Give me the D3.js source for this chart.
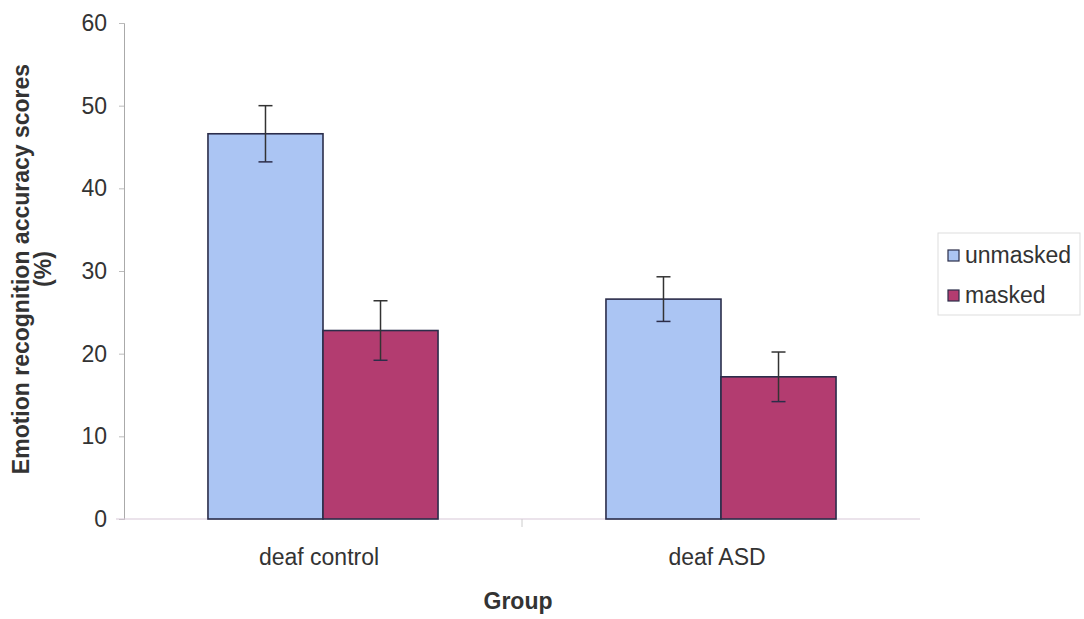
<!DOCTYPE html>
<html><head><meta charset="utf-8">
<script src="https://cdn.jsdelivr.net/npm/d3@7"></script>
<style>body{margin:0;background:#fff}text{font-family:"Liberation Sans",Arial,sans-serif;fill:#333}</style>
</head><body><svg id="c" width="1084" height="619"></svg>
<script>
const groups = ["deaf control", "deaf ASD"];
const seriesNames = ["unmasked", "masked"];
const unmasked = [46.6, 26.6];
const masked = [22.8, 17.2];
const unmaskedErr = [3.4, 2.7];
const maskedErr = [3.6, 3.0];
const yTicks = [0, 10, 20, 30, 40, 50, 60];
const colors = ["#abc5f3", "#b33c70"];

const svg = d3.select("#c");
const x = d3.scaleBand().domain(groups).range([124, 920]).paddingInner(0).paddingOuter(0);
const xs = d3.scaleBand().domain(seriesNames).range([0, x.bandwidth()]).paddingInner(0).paddingOuter(0.73);
const y = d3.scaleLinear().domain([0, 60]).range([519, 23]);

// y axis
const ya = svg.append("g").attr("transform", "translate(124,0)")
  .call(d3.axisLeft(y).tickValues(yTicks).tickSize(5).tickPadding(12));
ya.select(".domain").attr("stroke", "#aaa");
ya.selectAll(".tick line").attr("stroke", "#bbb");
ya.selectAll(".tick text").attr("font-size", 23).attr("fill", "#333").attr("font-family", "Liberation Sans, Arial, sans-serif");

// x axis
const xa = svg.append("g").attr("transform", "translate(0,519)");
xa.append("line").attr("x1", 116).attr("x2", 920).attr("y1", 0).attr("y2", 0).attr("stroke", "#d8c8d8").attr("stroke-width", 1.2);
xa.selectAll("line.div").data([x.range()[0] + x.bandwidth()]).enter().append("line")
  .attr("x1", d => d).attr("x2", d => d).attr("y1", 0).attr("y2", 8).attr("stroke", "#ccc");
xa.selectAll("text.cat").data(groups).enter().append("text")
  .attr("x", d => x(d) + x.bandwidth() / 2 - 4).attr("y", 46).attr("text-anchor", "middle")
  .attr("font-size", 23).text(d => d);

const data = groups.map((g, i) => ({g, vals: [
  {s: "unmasked", v: unmasked[i], e: unmaskedErr[i], c: colors[0]},
  {s: "masked", v: masked[i], e: maskedErr[i], c: colors[1]}]}));

const gg = svg.selectAll("g.grp").data(data).enter().append("g")
  .attr("transform", d => `translate(${x(d.g)},0)`);
gg.selectAll("rect").data(d => d.vals).enter().append("rect")
  .attr("x", d => xs(d.s)).attr("width", xs.bandwidth())
  .attr("y", d => y(d.v)).attr("height", d => y(0) - y(d.v))
  .attr("fill", d => d.c).attr("stroke", "#2b2d4a").attr("stroke-width", 1.6);
const eb = gg.selectAll("g.err").data(d => d.vals).enter().append("g")
  .attr("transform", d => `translate(${xs(d.s) + xs.bandwidth() / 2},0)`);
eb.append("line").attr("y1", d => y(d.v + d.e)).attr("y2", d => y(d.v - d.e)).attr("stroke", "#333").attr("stroke-width", 1.5);
eb.append("line").attr("x1", -7).attr("x2", 7).attr("y1", d => y(d.v + d.e)).attr("y2", d => y(d.v + d.e)).attr("stroke", "#333").attr("stroke-width", 1.5);
eb.append("line").attr("x1", -7).attr("x2", 7).attr("y1", d => y(d.v - d.e)).attr("y2", d => y(d.v - d.e)).attr("stroke", "#2b2d4a").attr("stroke-width", 1.5);

// titles
svg.append("text").attr("transform", "translate(29,269) rotate(-90)").attr("text-anchor", "middle")
  .attr("font-size", 23).attr("font-weight", "bold").text("Emotion recognition accuracy scores");
svg.append("text").attr("transform", "translate(51,269) rotate(-90)").attr("text-anchor", "middle")
  .attr("font-size", 23).attr("font-weight", "bold").text("(%)");
svg.append("text").attr("x", 518).attr("y", 609).attr("text-anchor", "middle")
  .attr("font-size", 23).attr("font-weight", "bold").text("Group");

// legend
const lg = svg.append("g").attr("transform", "translate(938,233)");
lg.append("rect").attr("x", 0).attr("y", 0).attr("width", 142).attr("height", 82).attr("fill", "#fff").attr("stroke", "#ddd");
const li = lg.selectAll("g.li").data(seriesNames).enter().append("g")
  .attr("transform", (d, i) => `translate(10,${30 + i * 40})`);
li.append("rect").attr("x", 0).attr("y", -13).attr("width", 11).attr("height", 11)
  .attr("fill", (d, i) => colors[i]).attr("stroke", "#2b2d4a").attr("stroke-width", 1.2);
li.append("text").attr("x", 17).attr("y", 0).attr("font-size", 23).text(d => d);
</script></body></html>
